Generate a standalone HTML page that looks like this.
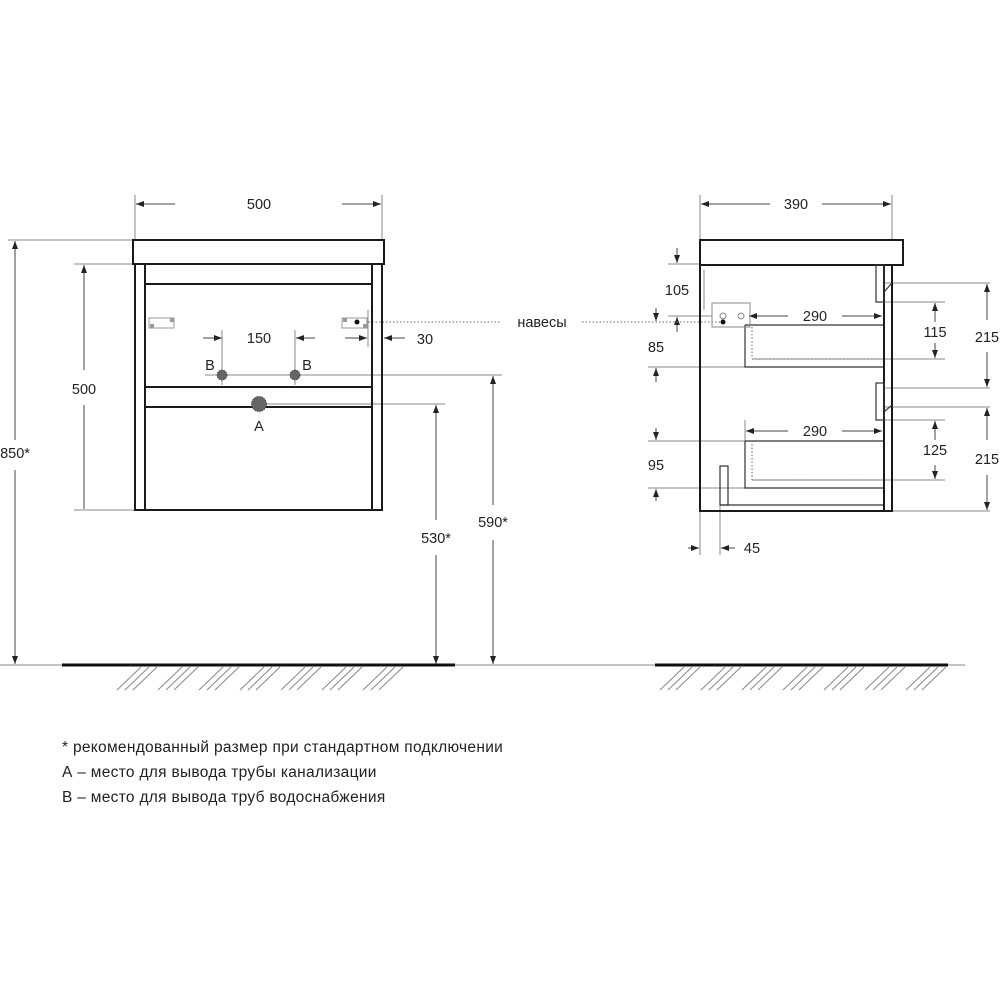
<!DOCTYPE html>
<html><head><meta charset="utf-8"><style>
html,body{margin:0;padding:0;background:#fff;}
svg{display:block;font-family:"Liberation Sans",sans-serif;}
text{fill:#222;font-size:14.5px;}
.n{font-size:15.5px;letter-spacing:0.3px;}
</style></head><body>
<svg width="1000" height="1000" viewBox="0 0 1000 1000" xmlns="http://www.w3.org/2000/svg">
<defs>
<marker id="a" markerWidth="8" markerHeight="6" refX="8" refY="3" orient="auto" markerUnits="userSpaceOnUse"><path d="M0,0 L8,3 L0,6 Z" fill="#222"/></marker>
</defs>
<g stroke="#888" stroke-width="1" fill="none">
<line x1="135" y1="195" x2="135" y2="240"/><line x1="382" y1="195" x2="382" y2="240"/>
<line x1="8" y1="240" x2="133" y2="240"/>
<line x1="74" y1="264" x2="135" y2="264"/><line x1="74" y1="510" x2="135" y2="510"/>
<line x1="205" y1="375" x2="502" y2="375"/>
<line x1="260" y1="404" x2="445" y2="404"/>
<line x1="222" y1="330" x2="222" y2="385"/><line x1="295" y1="330" x2="295" y2="385"/>
<line x1="368" y1="310" x2="368" y2="347"/>
<line x1="0" y1="665" x2="965" y2="665"/>
<line x1="700" y1="195" x2="700" y2="240"/><line x1="892" y1="195" x2="892" y2="240"/>
<line x1="668" y1="264" x2="700" y2="264"/><line x1="668" y1="316" x2="712" y2="316"/>
<line x1="648" y1="367" x2="745" y2="367"/>
<line x1="648" y1="441" x2="745" y2="441"/><line x1="648" y1="488" x2="745" y2="488"/>
<line x1="884" y1="283" x2="990" y2="283"/><line x1="884" y1="388" x2="990" y2="388"/>
<line x1="884" y1="407" x2="990" y2="407"/><line x1="892" y1="511" x2="990" y2="511"/>
<line x1="884" y1="302" x2="945" y2="302"/><line x1="752" y1="359" x2="945" y2="359"/>
<line x1="884" y1="420" x2="945" y2="420"/><line x1="752" y1="480" x2="945" y2="480"/>
<line x1="700" y1="511" x2="700" y2="555"/><line x1="720" y1="505" x2="720" y2="555"/>
<line x1="745" y1="420" x2="745" y2="441"/>
</g>
<g stroke="#444" stroke-width="1" fill="none">
<line x1="175" y1="204" x2="136" y2="204" marker-end="url(#a)"/><line x1="342" y1="204" x2="381" y2="204" marker-end="url(#a)"/>
<line x1="770" y1="204" x2="701" y2="204" marker-end="url(#a)"/><line x1="822" y1="204" x2="891" y2="204" marker-end="url(#a)"/>
<line x1="15" y1="440" x2="15" y2="241" marker-end="url(#a)"/><line x1="15" y1="470" x2="15" y2="664" marker-end="url(#a)"/>
<line x1="84" y1="370" x2="84" y2="265" marker-end="url(#a)"/><line x1="84" y1="405" x2="84" y2="509"/>
<line x1="436" y1="520" x2="436" y2="405" marker-end="url(#a)"/><line x1="436" y1="555" x2="436" y2="664" marker-end="url(#a)"/>
<line x1="493" y1="505" x2="493" y2="376" marker-end="url(#a)"/><line x1="493" y1="540" x2="493" y2="664" marker-end="url(#a)"/>
<line x1="203" y1="338" x2="222" y2="338" marker-end="url(#a)"/><line x1="315" y1="338" x2="296" y2="338" marker-end="url(#a)"/>
<line x1="345" y1="338" x2="367" y2="338" marker-end="url(#a)"/><line x1="405" y1="338" x2="384" y2="338" marker-end="url(#a)"/>
<line x1="677" y1="248" x2="677" y2="263" marker-end="url(#a)"/><line x1="677" y1="332" x2="677" y2="317" marker-end="url(#a)"/>
<line x1="656" y1="308" x2="656" y2="321" marker-end="url(#a)"/><line x1="656" y1="382" x2="656" y2="368" marker-end="url(#a)"/>
<line x1="656" y1="428" x2="656" y2="440" marker-end="url(#a)"/><line x1="656" y1="501" x2="656" y2="489" marker-end="url(#a)"/>
<line x1="688" y1="548" x2="699" y2="548" marker-end="url(#a)"/><line x1="735" y1="548" x2="721" y2="548" marker-end="url(#a)"/>
<line x1="788" y1="316" x2="749" y2="316" marker-end="url(#a)"/><line x1="842" y1="316" x2="882" y2="316" marker-end="url(#a)"/>
<line x1="788" y1="431" x2="746" y2="431" marker-end="url(#a)"/><line x1="842" y1="431" x2="882" y2="431" marker-end="url(#a)"/>
<line x1="987" y1="320" x2="987" y2="284" marker-end="url(#a)"/><line x1="987" y1="352" x2="987" y2="387" marker-end="url(#a)"/>
<line x1="987" y1="440" x2="987" y2="408" marker-end="url(#a)"/><line x1="987" y1="475" x2="987" y2="510" marker-end="url(#a)"/>
<line x1="935" y1="322" x2="935" y2="303" marker-end="url(#a)"/><line x1="935" y1="343" x2="935" y2="358" marker-end="url(#a)"/>
<line x1="935" y1="440" x2="935" y2="421" marker-end="url(#a)"/><line x1="935" y1="465" x2="935" y2="479" marker-end="url(#a)"/>
</g>
<g stroke="#666" stroke-width="1" stroke-dasharray="1.5,2">
<line x1="358" y1="322" x2="500" y2="322"/><line x1="582" y1="322" x2="722" y2="322"/>
<line x1="752" y1="327" x2="752" y2="359"/><line x1="752" y1="359" x2="882" y2="359"/>
<line x1="752" y1="444" x2="752" y2="480"/><line x1="752" y1="480" x2="882" y2="480"/>
</g>
<g stroke="#1a1a1a" stroke-width="2" fill="none">
<rect x="133" y="240" width="251" height="24"/>
<rect x="135" y="264" width="247" height="246"/>
<line x1="145" y1="264" x2="145" y2="510"/><line x1="372" y1="264" x2="372" y2="510"/>
<line x1="145" y1="284" x2="372" y2="284"/>
<line x1="145" y1="387" x2="372" y2="387"/><line x1="145" y1="407" x2="372" y2="407"/>
</g>
<g stroke="#999" stroke-width="1" fill="#fff">
<rect x="149" y="318" width="25" height="10"/><rect x="342" y="318" width="25" height="10"/>
</g>
<g fill="#999"><rect x="170" y="318" width="4" height="4"/><rect x="150" y="324" width="4" height="4"/>
<rect x="343" y="318" width="4" height="4"/><rect x="363" y="324" width="4" height="4"/></g>
<circle cx="357" cy="322" r="2.5" fill="#111"/>
<g fill="#666" stroke="#333" stroke-width="0.8" stroke-dasharray="1.5,1">
<circle cx="222" cy="375" r="5"/><circle cx="295" cy="375" r="5"/><circle cx="259" cy="404" r="7.5"/>
</g>
<g stroke="#1a1a1a" stroke-width="2" fill="none">
<rect x="700" y="240" width="203" height="25"/>
<rect x="700" y="265" width="192" height="246"/>
<line x1="884" y1="265" x2="884" y2="511"/>
</g>
<g stroke="#333" stroke-width="1.2" fill="none">
<rect x="876" y="265" width="8" height="37"/><rect x="876" y="383" width="8" height="37"/>
<line x1="884" y1="292" x2="892" y2="283"/><line x1="884" y1="412" x2="892" y2="405"/>
<polyline points="745,325 745,367 883,367"/><line x1="745" y1="325" x2="883" y2="325"/>
<polyline points="745,441 745,488 883,488"/><line x1="745" y1="441" x2="883" y2="441"/>
<rect x="720" y="466" width="8" height="39"/><line x1="720" y1="505" x2="883" y2="505"/>
</g>
<g stroke="#888" stroke-width="1" fill="none">
<rect x="712" y="303" width="38" height="24"/>
<line x1="704" y1="270" x2="704" y2="310"/>
<circle cx="723" cy="316" r="3"/><circle cx="741" cy="316" r="3"/>
</g>
<circle cx="723" cy="322" r="2.5" fill="#111"/>
<line x1="62" y1="665" x2="455" y2="665" stroke="#111" stroke-width="3"/>
<line x1="655" y1="665" x2="948" y2="665" stroke="#111" stroke-width="3"/>
<g stroke="#888" stroke-width="1">
<path d="M117,690l24,-23M125,690l24,-23M133,690l24,-23 M158,690l24,-23M166,690l24,-23M174,690l24,-23 M199,690l24,-23M207,690l24,-23M215,690l24,-23 M240,690l24,-23M248,690l24,-23M256,690l24,-23 M281,690l24,-23M289,690l24,-23M297,690l24,-23 M322,690l24,-23M330,690l24,-23M338,690l24,-23 M363,690l24,-23M371,690l24,-23M379,690l24,-23"/>
<path d="M660,690l24,-23M668,690l24,-23M676,690l24,-23 M701,690l24,-23M709,690l24,-23M717,690l24,-23 M742,690l24,-23M750,690l24,-23M758,690l24,-23 M783,690l24,-23M791,690l24,-23M799,690l24,-23 M824,690l24,-23M832,690l24,-23M840,690l24,-23 M865,690l24,-23M873,690l24,-23M881,690l24,-23 M906,690l24,-23M914,690l24,-23M922,690l24,-23"/>
</g>
<g>
<text x="259" y="209" text-anchor="middle">500</text>
<text x="796" y="209" text-anchor="middle">390</text>
<text x="84" y="394" text-anchor="middle">500</text>
<text x="15" y="458" text-anchor="middle">850*</text>
<text x="436" y="543" text-anchor="middle">530*</text>
<text x="493" y="527" text-anchor="middle">590*</text>
<text x="259" y="343" text-anchor="middle">150</text>
<text x="425" y="344" text-anchor="middle">30</text>
<text x="210" y="370" text-anchor="middle">B</text>
<text x="307" y="370" text-anchor="middle">B</text>
<text x="259" y="431" text-anchor="middle">A</text>
<text x="542" y="327" text-anchor="middle">навесы</text>
<text x="677" y="295" text-anchor="middle">105</text>
<text x="656" y="352" text-anchor="middle">85</text>
<text x="656" y="470" text-anchor="middle">95</text>
<text x="752" y="553" text-anchor="middle">45</text>
<text x="815" y="321" text-anchor="middle">290</text>
<text x="815" y="436" text-anchor="middle">290</text>
<text x="935" y="337" text-anchor="middle">115</text>
<text x="935" y="455" text-anchor="middle">125</text>
<text x="987" y="342" text-anchor="middle">215</text>
<text x="987" y="464" text-anchor="middle">215</text>
<text class="n" x="62" y="752">* рекомендованный размер при стандартном подключении</text>
<text class="n" x="62" y="777">А – место для вывода трубы канализации</text>
<text class="n" x="62" y="802">В – место для вывода труб водоснабжения</text>
</g>
</svg>
</body></html>
